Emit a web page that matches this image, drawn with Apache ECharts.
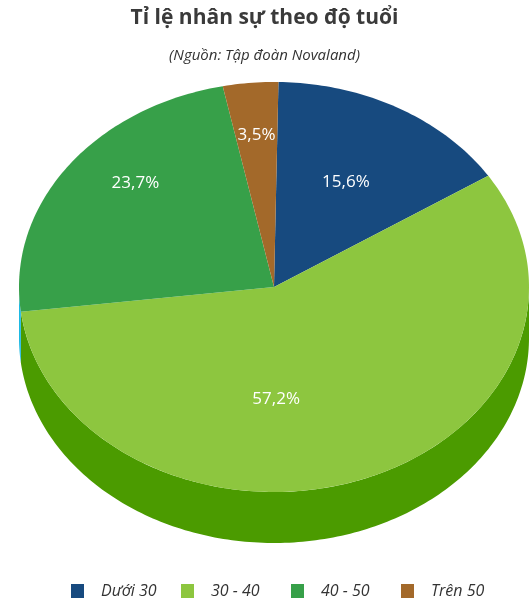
<!DOCTYPE html>
<html>
<head>
<meta charset="utf-8">
<script src="https://cdn.jsdelivr.net/npm/echarts@6/dist/echarts.min.js"></script>
<style>
  html, body { margin: 0; padding: 0; background: #ffffff; }
  #chart { width: 529px; height: 605px; }
</style>
</head>
<body>
<div id="chart"></div>
<script>
// Age groups and their share of staff (percent)
const categories = ['Dưới 30', '30 - 40', '40 - 50', 'Trên 50'];
const shares = [15.6, 57.2, 23.7, 3.5];
const valueLabels = ['15,6%', '57,2%', '23,7%', '3,5%'];

// Slice colours: top face and the visible rim below it
const topColors = ['#174a7f', '#8dc63f', '#37a049', '#a3692a'];
const sideColors = ['#0f3560', '#4b9b00', '#1db9e3', '#7a4c1c'];

const FONT = '"Open Sans", "Noto Sans", sans-serif';

// Geometry of the tilted pie (pixels); angles run clockwise from 12 o'clock
const PIE = { cx: 274, cy: 287, rx: 255, ry: 205, depth: 51, startAngle: 1 };
// Where each value label sits: angular shift (deg) from the slice middle and radius fraction
const labelShift = [0, 19, 7, 0];
const labelRadius = [0.58, 0.55, 0.74, 0.74];
// Legend row: first item x and fixed pitch between items
const LEGEND = { left: 66, pitch: 110, top: 578 };

const total = shares.reduce((s, v) => s + v, 0);
const startAngles = [];
shares.reduce((acc, v, i) => { startAngles[i] = acc; return acc + v / total * 360; }, PIE.startAngle);

function pt(deg, r, dy) {
  const t = deg * Math.PI / 180;
  return [PIE.cx + PIE.rx * r * Math.sin(t), PIE.cy - PIE.ry * r * Math.cos(t) + (dy || 0)];
}
function arc(a, b, dy) {
  const pts = [];
  const n = Math.max(2, Math.ceil(Math.abs(b - a)));
  for (let k = 0; k <= n; k++) pts.push(pt(a + (b - a) * k / n, 1, dy));
  return pts;
}

function renderSlice(i) {
  const a = startAngles[i];
  const b = a + shares[i] / total * 360;
  const children = [];
  // front rim, visible between 90 and 270 degrees
  const sa = Math.max(a, 90), sb = Math.min(b, 270);
  if (sb > sa) {
    const pts = arc(sa, sb, 0).concat(arc(sb, sa, PIE.depth));
    children.push({ type: 'polygon', z2: 1, shape: { points: pts },
      style: { fill: sideColors[i] } });
  }
  // top face
  children.push({ type: 'polygon', z2: 2,
    shape: { points: [[PIE.cx, PIE.cy]].concat(arc(a, b, 0)) },
    style: { fill: topColors[i] } });
  // value label
  const mid = (a + b) / 2 + labelShift[i];
  const p = pt(mid, labelRadius[i], 0);
  children.push({ type: 'text', z2: 3, x: p[0], y: p[1] - 1,
    style: { text: valueLabels[i], fill: '#ffffff', font: '17px ' + FONT,
      align: 'center', verticalAlign: 'middle' } });
  return { type: 'group', children };
}

const chart = echarts.init(document.getElementById('chart'), null, { renderer: 'canvas' });
chart.setOption({
  animation: false,
  backgroundColor: '#ffffff',
  title: {
    text: 'Tỉ lệ nhân sự theo độ tuổi',
    subtext: '(Nguồn: Tập đoàn Novaland)',
    left: 'center', top: 3, itemGap: 19,
    textStyle: { fontFamily: FONT, fontWeight: 'bold', fontSize: 21, color: '#3a3a3a' },
    subtextStyle: { fontFamily: FONT, fontStyle: 'italic', fontSize: 15, color: '#333333' }
  },
  // one legend entry per category, laid out on a fixed pitch
  legend: categories.map((name, i) => ({
    data: [name],
    left: LEGEND.left + i * LEGEND.pitch, top: LEGEND.top,
    icon: 'rect', itemWidth: 13, itemHeight: 14,
    textStyle: { fontFamily: FONT, fontStyle: 'italic', fontSize: 16, color: '#333333',
      padding: [0, 0, 0, 12] }
  })),
  series: categories.map((name, i) => ({
    type: 'custom',
    name: name,
    coordinateSystem: 'none',
    itemStyle: { color: topColors[i] },
    data: [[i, shares[i]]],
    renderItem: () => renderSlice(i)
  }))
});
</script>
</body>
</html>
